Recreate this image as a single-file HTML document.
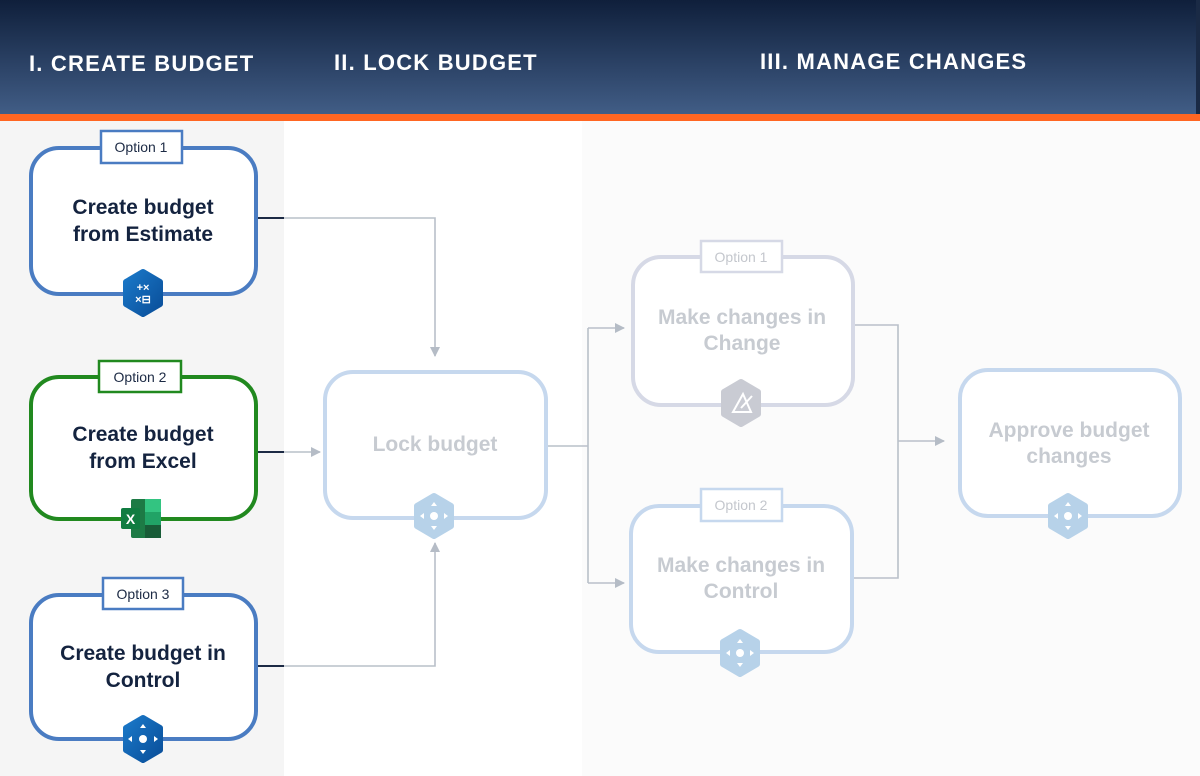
<!DOCTYPE html>
<html><head><meta charset="utf-8"><style>
html,body{margin:0;padding:0;width:1200px;height:776px;overflow:hidden;background:#fff}
svg{display:block}
text{font-family:"Liberation Sans",sans-serif}
</style></head><body>
<svg width="1200" height="776" viewBox="0 0 1200 776" xmlns="http://www.w3.org/2000/svg">
<defs>
<linearGradient id="hg" x1="0" y1="0" x2="0" y2="1"><stop offset="0" stop-color="#0f1f3b"/><stop offset="1" stop-color="#415d86"/></linearGradient>
<linearGradient id="ig" x1="0" y1="0" x2="1" y2="1"><stop offset="0" stop-color="#1a78c8"/><stop offset="1" stop-color="#0a4f9a"/></linearGradient>
<marker id="ar" viewBox="0 0 10 10" refX="9" refY="5" markerWidth="10" markerHeight="10" markerUnits="userSpaceOnUse" orient="auto"><path d="M0,0L10,5L0,10z" fill="#b5bcc6"/></marker>
</defs>
<rect x="0" y="121" width="284" height="655" fill="#f5f5f5"/>
<rect x="284" y="121" width="298" height="655" fill="#ffffff"/>
<rect x="582" y="121" width="618" height="655" fill="#fbfbfb"/>
<rect x="0" y="0" width="1200" height="114" fill="url(#hg)"/>
<rect x="1196" y="0" width="4" height="114" fill="#1a2a45"/>
<rect x="0" y="114" width="1200" height="7" fill="#ff6622"/>
<g fill="#fff" font-weight="bold" font-size="22" letter-spacing="1.2">
<text x="29" y="71">I. CREATE BUDGET</text>
<text x="334" y="70">II. LOCK BUDGET</text>
<text x="760" y="69">III. MANAGE CHANGES</text>
</g>
<g fill="none" stroke="#b9c0c9" stroke-width="1.6">
<path d="M284,218H435V356" marker-end="url(#ar)"/>
<path d="M284,452H320" marker-end="url(#ar)"/>
<path d="M284,666H435V543" marker-end="url(#ar)"/>
<path d="M546,446H588M588,328V583M588,328H624" marker-end="url(#ar)"/>
<path d="M588,583H624" marker-end="url(#ar)"/>
<path d="M853,325H898V578H853M898,441H944" marker-end="url(#ar)"/>
</g>
<g stroke="#1c2a44" stroke-width="2"><path d="M256,218H284M256,452H284M256,666H284"/></g>
<g fill="#fff" stroke-width="4">
<rect x="31" y="148" width="225" height="146" rx="28" stroke="#4a7cc2"/>
<rect x="31" y="377" width="225" height="142" rx="28" stroke="#21891f"/>
<rect x="31" y="595" width="225" height="144" rx="28" stroke="#4a7cc2"/>
<rect x="325" y="372" width="221" height="146" rx="28" stroke="#c6d8ee"/>
<rect x="633" y="257" width="220" height="148" rx="28" stroke="#d6d9e6"/>
<rect x="631" y="506" width="221" height="146" rx="28" stroke="#c6d8ee"/>
<rect x="960" y="370" width="220" height="146" rx="28" stroke="#c6d8ee"/>
</g>
<g fill="#fff" stroke-width="2.5">
<rect x="101" y="131" width="81" height="32" stroke="#4a7cc2"/>
<rect x="99" y="361" width="82" height="31" stroke="#21891f"/>
<rect x="103" y="578" width="80" height="31" stroke="#4a7cc2"/>
<rect x="701" y="241" width="81" height="31" stroke="#d6d9e6"/>
<rect x="701" y="489" width="81" height="32" stroke="#c6d8ee"/>
</g>
<g font-size="14" text-anchor="middle">
<text x="141" y="152" fill="#1c2a44">Option 1</text>
<text x="140" y="382" fill="#1c2a44">Option 2</text>
<text x="143" y="599" fill="#1c2a44">Option 3</text>
<text x="741" y="262" fill="#c4c7cd">Option 1</text>
<text x="741" y="510" fill="#c4c7cd">Option 2</text>
</g>
<g font-size="21" font-weight="bold" text-anchor="middle" fill="#14233f">
<text x="143" y="214">Create budget</text><text x="143" y="241">from Estimate</text>
<text x="143" y="441">Create budget</text><text x="143" y="468">from Excel</text>
<text x="143" y="660">Create budget in</text><text x="143" y="687">Control</text>
</g>
<g font-size="21" font-weight="bold" text-anchor="middle" fill="#c7cbd1">
<text x="435" y="451">Lock budget</text>
<text x="742" y="324">Make changes in</text><text x="742" y="350">Change</text>
<text x="741" y="572">Make changes in</text><text x="741" y="598">Control</text>
<text x="1069" y="437">Approve budget</text><text x="1069" y="463">changes</text>
</g>
<g stroke-linejoin="round" stroke-width="6">
<polygon points="143,272 160,282 160,304 143,314 126,304 126,282" fill="url(#ig)" stroke="url(#ig)"/>
<polygon points="143,718 160,728 160,750 143,760 126,750 126,728" fill="url(#ig)" stroke="url(#ig)"/>
<polygon points="434,496 451,506 451,526 434,536 417,526 417,506" fill="#b7d2e9" stroke="#b7d2e9"/>
<polygon points="741,382 758,392 758,414 741,424 724,414 724,392" fill="#c9cbd3" stroke="#c9cbd3"/>
<polygon points="740,632 757,642 757,664 740,674 723,664 723,642" fill="#b7d2e9" stroke="#b7d2e9"/>
<polygon points="1068,496 1085,506 1085,526 1068,536 1051,526 1051,506" fill="#b7d2e9" stroke="#b7d2e9"/>
</g>
<g fill="#fff" font-size="11" font-weight="bold" text-anchor="middle"><text x="143" y="291">+×</text><text x="143" y="303">×⊟</text></g>
<g fill="#fff">
<circle cx="143" cy="739" r="4"/><path d="M143,724l-3,4h6zM143,754l-3,-4h6zM128,739l4,-3v6zM158,739l-4,-3v6z"/>
<circle cx="434" cy="516" r="4"/><path d="M434,502l-3,4h6zM434,530l-3,-4h6zM420,516l4,-3v6zM448,516l-4,-3v6z"/>
<circle cx="740" cy="653" r="4"/><path d="M740,639l-3,4h6zM740,667l-3,-4h6zM726,653l4,-3v6zM754,653l-4,-3v6z"/>
<circle cx="1068" cy="516" r="4"/><path d="M1068,502l-3,4h6zM1068,530l-3,-4h6zM1054,516l4,-3v6zM1082,516l-4,-3v6z"/>
</g>
<path d="M733,412L743,394L751,412Z M741,408L752,396" stroke="#fff" stroke-width="2" fill="none"/>
<rect x="131" y="499" width="30" height="39" rx="2" fill="#1d7a45"/>
<rect x="145" y="499" width="16" height="13" fill="#33c481"/>
<rect x="145" y="512" width="16" height="13" fill="#21a366"/>
<rect x="145" y="525" width="16" height="13" fill="#185c37"/>
<rect x="121" y="508" width="19" height="21" rx="2" fill="#107c41"/>
<text x="130.5" y="524" fill="#fff" font-size="14" font-weight="bold" text-anchor="middle">X</text>
</svg>
</body></html>
